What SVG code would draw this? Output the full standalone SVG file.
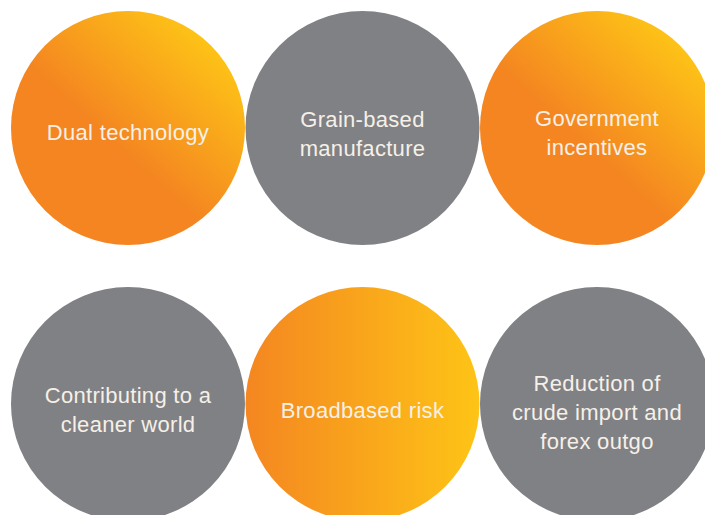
<svg xmlns="http://www.w3.org/2000/svg" width="705" height="515" viewBox="0 0 705 515">
  <defs>
    <linearGradient id="diag" x1="0.85" y1="0.08" x2="0.42" y2="0.55">
      <stop offset="0" stop-color="#FEC716"/>
      <stop offset="1" stop-color="#F48521"/>
    </linearGradient>
    <linearGradient id="horiz" x1="0" y1="0" x2="1" y2="0">
      <stop offset="0" stop-color="#F48621"/>
      <stop offset="1" stop-color="#FEC416"/>
    </linearGradient>
  </defs>
  <style>
    .gray { fill: #808184; }
    .orange { fill: url(#diag); }
    .orangeh { fill: url(#horiz); }
    text { font-family: "Liberation Sans", Arial, sans-serif; font-size: 22px; letter-spacing: 0.3px; fill: #F6F0E8; text-anchor: middle; }
  </style>
  <rect width="705" height="515" fill="#FFFFFF"/>
  <g id="connectors"></g>
  <g id="dual-technology">
    <circle class="orange" cx="128" cy="128" r="117"/>
    <text x="128" y="140">Dual technology</text>
  </g>
  <g id="grain-based">
    <circle class="gray" cx="362.5" cy="128" r="117"/>
    <text x="362.5" y="127">Grain-based</text>
    <text x="362.5" y="156">manufacture</text>
  </g>
  <g id="government-incentives">
    <circle class="orange" cx="597" cy="128" r="117"/>
    <text x="597" y="126">Government</text>
    <text x="597" y="155">incentives</text>
  </g>
  <g id="cleaner-world">
    <circle class="gray" cx="128" cy="404" r="117"/>
    <text x="128" y="403">Contributing to a</text>
    <text x="128" y="432">cleaner world</text>
  </g>
  <g id="broadbased-risk">
    <circle class="orangeh" cx="362.5" cy="404" r="117"/>
    <text x="362.5" y="418">Broadbased risk</text>
  </g>
  <g id="reduction">
    <circle class="gray" cx="597" cy="404" r="117"/>
    <text x="597" y="391">Reduction of</text>
    <text x="597" y="420">crude import and</text>
    <text x="597" y="449">forex outgo</text>
  </g>
</svg>
